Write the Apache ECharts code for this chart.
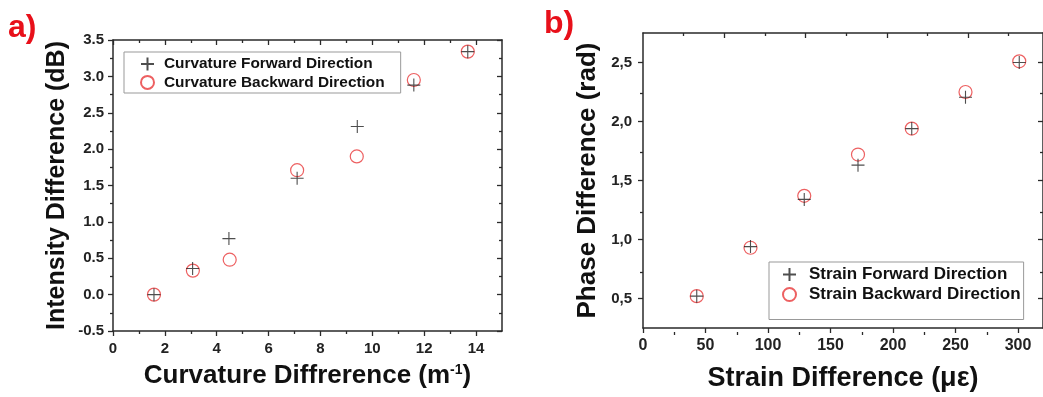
<!DOCTYPE html>
<html><head><meta charset="utf-8">
<script src="https://cdn.jsdelivr.net/npm/echarts@6/dist/echarts.min.js"></script>
<style>html,body{margin:0;padding:0;background:#fff}#c{width:1043px;height:397px}</style>
</head><body><div id="c"></div>
<script>
// ---- data (panel a: curvature) ----
const curvFwdX = [1.58, 3.07, 4.47, 7.1, 9.42, 11.6, 13.68];
const curvFwdY = [0.0, 0.36, 0.77, 1.60, 2.31, 2.88, 3.34];
const curvBwdX = [1.58, 3.08, 4.5, 7.1, 9.4, 11.6, 13.68];
const curvBwdY = [0.0, 0.33, 0.48, 1.71, 1.90, 2.95, 3.34];
// ---- data (panel b: strain) ----
const strainX    = [43, 86, 129, 172, 215, 258, 301];
const strainFwdY = [0.52, 0.94, 1.34, 1.63, 1.94, 2.205, 2.50];
const strainBwdY = [0.52, 0.93, 1.37, 1.72, 1.94, 2.25, 2.51];
// ---- ticks / labels ----
const aXMajor = [0, 2, 4, 6, 8, 10, 12, 14];
const aXMinor = [1, 3, 5, 7, 9, 11, 13];
const aYMajor = [-0.5, 0, 0.5, 1, 1.5, 2, 2.5, 3, 3.5];
const aYMinor = [-0.25, 0.25, 0.75, 1.25, 1.75, 2.25, 2.75, 3.25];
const bXMajor = [0, 50, 100, 150, 200, 250, 300];
const bXMinor = [25, 75, 125, 175, 225, 275];
const bXTopMajor = [65, 130, 195, 260];
const bXTopMinor = [32.5, 97.5, 162.5, 227.5, 292.5];
const bYMajor = [0.5, 1.0, 1.5, 2.0, 2.5];
const bYMinor = [0.75, 1.25, 1.75, 2.25];
const namesA = ['Curvature Forward Direction', 'Curvature Backward Direction'];
const namesB = ['Strain Forward Direction', 'Strain Backward Direction'];

const FONT = "'Liberation Sans', Arial, sans-serif";
const AX = '#2a2a2a';
const RED = '#e8383a';
const PLUS = 'path://M5,0L5,10M0,5L10,5';

function pair(xs, ys) { return xs.map((x, i) => [x, ys[i]]); }

function axis(gridIndex, position, min, max, o) {
  const a = {
    type: 'value', gridIndex, position, min, max,
    axisLine: { show: !!o.line, onZero: false, lineStyle: { color: AX, width: 1.5 } },
    axisTick: { show: true, inside: !!o.inside, length: o.len, customValues: o.ticks,
                lineStyle: { color: AX, width: 1.3 } },
    axisLabel: o.labels ? {
      show: true, customValues: o.labels, margin: o.margin || 10,
      fontFamily: FONT, fontWeight: 'bold', fontSize: o.fs || 15, color: '#222',
      formatter: o.fmt
    } : { show: false },
    splitLine: { show: false }
  };
  if (o.name) {
    a.name = o.name; a.nameLocation = 'middle'; a.nameGap = o.nameGap;
    a.nameTextStyle = Object.assign({ fontFamily: FONT, fontWeight: 'bold', fontSize: o.nfs || 25, color: '#111' }, o.nameStyle || {});
  }
  return a;
}

const gA = { left: 113, top: 40, width: 389, height: 291 };
const gB = { left: 643, top: 33, width: 400, height: 299 };

const commaFmt = v => v.toFixed(1).replace('.', ',');

const option = {
  animation: false,
  backgroundColor: '#fff',
  grid: [
    Object.assign({}, gA), Object.assign({}, gA),
    Object.assign({}, gB), Object.assign({}, gB)
  ],
  xAxis: [
    axis(0, 'bottom', 0, 15, { line: true, len: 5, ticks: aXMajor, labels: aXMajor, fs: 15,
      name: 'Curvature Diffrerence (m{sup|-1})', nameGap: 32, nfs: 26,
      nameStyle: { rich: { sup: { fontFamily: FONT, fontWeight: 'bold', fontSize: 14, color: '#111', verticalAlign: 'top', padding: [0, 0, 12, 0] } } } }),
    axis(0, 'top', 0, 15, { line: true, inside: true, len: 5, ticks: aXMajor }),
    axis(1, 'bottom', 0, 15, { len: 3, ticks: aXMinor }),
    axis(1, 'top', 0, 15, { inside: true, len: 3, ticks: aXMinor }),
    axis(2, 'bottom', 0, 320, { line: true, len: 5, ticks: bXMajor, labels: bXMajor, fs: 16,
      name: 'Strain Difference (\u03bc\u03b5)', nameGap: 37, nfs: 27 }),
    axis(2, 'top', 0, 320, { line: true, inside: true, len: 5, ticks: bXTopMajor }),
    axis(3, 'bottom', 0, 320, { len: 3, ticks: bXMinor }),
    axis(3, 'top', 0, 320, { inside: true, len: 3, ticks: bXTopMinor })
  ],
  yAxis: [
    axis(0, 'left', -0.5, 3.5, { line: true, len: 5, ticks: aYMajor, labels: aYMajor, margin: 9, fs: 15,
      fmt: v => v.toFixed(1), name: 'Intensity Difference (dB)', nameGap: 43, nfs: 25 }),
    axis(0, 'right', -0.5, 3.5, { line: true, inside: true, len: 5, ticks: aYMajor }),
    axis(1, 'left', -0.5, 3.5, { len: 3, ticks: aYMinor }),
    axis(1, 'right', -0.5, 3.5, { inside: true, len: 3, ticks: aYMinor }),
    axis(2, 'left', 0.25, 2.75, { line: true, len: 5, ticks: bYMajor, labels: bYMajor, margin: 11, fs: 15,
      fmt: commaFmt, name: 'Phase Difference (rad)', nameGap: 42, nfs: 26 }),
    axis(2, 'right', 0.25, 2.75, { line: true, inside: true, len: 5, ticks: bYMajor }),
    axis(3, 'left', 0.25, 2.75, { len: 3, ticks: bYMinor }),
    axis(3, 'right', 0.25, 2.75, { inside: true, len: 3, ticks: bYMinor })
  ],
  legend: [
    {
      data: namesA, orient: 'vertical', left: 124, top: 52,
      itemWidth: 13, itemHeight: 13, itemGap: 3.4, selectedMode: false,
      padding: [4.5, 16, 3.1, 16], borderColor: '#999', borderWidth: 1,
      textStyle: { fontFamily: FONT, fontWeight: 'bold', fontSize: 15.4, lineHeight: 14, color: '#111', padding: [0, 0, 0, 5] }
    },
    {
      data: namesB, orient: 'vertical', left: 769, top: 262,
      itemWidth: 13, itemHeight: 13, itemGap: 3, selectedMode: false,
      padding: [4, 3, 16.5, 13], borderColor: '#999', borderWidth: 1,
      textStyle: { fontFamily: FONT, fontWeight: 'bold', fontSize: 17, lineHeight: 14, color: '#111', padding: [0, 0, 0, 8] }
    }
  ],
  graphic: [
    { type: 'text', left: 8, top: 12, style: { text: 'a)', font: "bold 32px 'Liberation Sans', Arial, sans-serif", fill: '#e8101a' } },
    { type: 'text', left: 544, top: 8, style: { text: 'b)', font: "bold 32px 'Liberation Sans', Arial, sans-serif", fill: '#e8101a' } }
  ],
  series: [
    { name: namesA[1], type: 'scatter', xAxisIndex: 0, yAxisIndex: 0, symbol: 'circle', symbolSize: 13,
      itemStyle: { color: 'rgba(255,255,255,0)', borderColor: RED, borderWidth: 1.2 },
      data: pair(curvBwdX, curvBwdY) },
    { name: namesA[0], type: 'scatter', xAxisIndex: 0, yAxisIndex: 0, symbol: PLUS, symbolSize: 13,
      itemStyle: { color: 'rgba(255,255,255,0)', borderColor: '#222', borderWidth: 1.1 },
      data: pair(curvFwdX, curvFwdY) },
    { name: namesB[1], type: 'scatter', xAxisIndex: 4, yAxisIndex: 4, symbol: 'circle', symbolSize: 13,
      itemStyle: { color: 'rgba(255,255,255,0)', borderColor: RED, borderWidth: 1.2 },
      data: pair(strainX, strainBwdY) },
    { name: namesB[0], type: 'scatter', xAxisIndex: 4, yAxisIndex: 4, symbol: PLUS, symbolSize: 13,
      itemStyle: { color: 'rgba(255,255,255,0)', borderColor: '#222', borderWidth: 1.1 },
      data: pair(strainX, strainFwdY) }
  ]
};

const chart = echarts.init(document.getElementById('c'), null, { renderer: 'canvas' });
chart.setOption(option);
</script>
</body></html>
